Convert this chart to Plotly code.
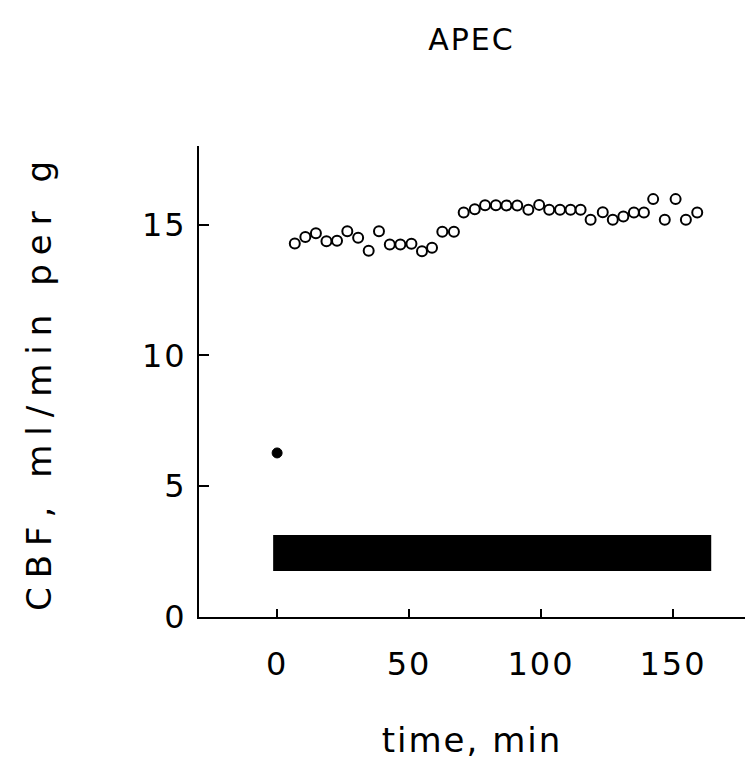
import plotly.graph_objects as go

# Data
time_open = [6.7, 10.7, 14.7, 18.7, 22.7, 26.6, 30.7, 34.7, 38.6, 42.7,
             46.7, 50.9, 54.9, 58.7, 62.6, 67.0, 70.7, 74.9, 78.8, 82.9,
             86.9, 91.0, 95.2, 99.3, 103.1, 107.2, 111.2, 115.0, 118.8, 123.4,
             127.2, 131.2, 135.2, 139.0, 142.5, 146.9, 151.0, 154.9, 159.2]
cbf_open = [14.27, 14.52, 14.67, 14.36, 14.38, 14.74, 14.49, 14.00, 14.74, 14.24,
            14.24, 14.26, 13.98, 14.11, 14.72, 14.72, 15.46, 15.58, 15.74, 15.74,
            15.73, 15.73, 15.56, 15.75, 15.56, 15.56, 15.56, 15.56, 15.18, 15.47,
            15.18, 15.31, 15.46, 15.46, 15.97, 15.18, 15.97, 15.18, 15.46]
time_base = [0]
cbf_base = [6.27]
bar_start, bar_end = -1.5, 164.5
bar_low, bar_high = 1.76, 3.13

x_ticks = [0, 50, 100, 150]
y_ticks = [0, 5, 10, 15]

FONT = "DejaVu Sans"


def spaced(text, px):
    return f'<span style="letter-spacing:{px}px">{text}</span>'


fig = go.Figure()
fig.add_shape(type="rect", xref="x", yref="y",
              x0=bar_start, x1=bar_end, y0=bar_low, y1=bar_high,
              fillcolor="black", line=dict(width=0), layer="below")
fig.add_trace(go.Scatter(x=time_base, y=cbf_base, mode="markers",
                         marker=dict(size=10, color="black",
                                     line=dict(color="black", width=1)),
                         showlegend=False))
fig.add_trace(go.Scatter(x=time_open, y=cbf_open, mode="markers",
                         marker=dict(size=10, color="white", symbol="circle",
                                     line=dict(color="black", width=2)),
                         showlegend=False))

fig.update_layout(
    width=746, height=783, autosize=False,
    paper_bgcolor="white", plot_bgcolor="white",
    margin=dict(l=199, r=1, t=146, b=166),
    font=dict(family=FONT, color="black", size=30),
    title=dict(text=spaced("APEC", 2), x=0.632, xanchor="center", y=0.949, yanchor="middle",
               font=dict(family=FONT, size=30, color="black")),
)
fig.update_xaxes(
    range=[-29.6, 177.3], tickvals=x_ticks, ticktext=[spaced(str(v), 2) for v in x_ticks],
    ticks="inside", ticklen=8, tickwidth=2, tickcolor="black",
    showline=True, linecolor="black", linewidth=2, mirror=False,
    showgrid=False, zeroline=False, ticklabelstandoff=18,
    tickfont=dict(family=FONT, size=32, color="black"),
    title=dict(text=spaced("time, min", 2), standoff=46,
               font=dict(family=FONT, size=34, color="black")),
)
fig.update_yaxes(
    range=[0, 18.0], tickvals=y_ticks, ticktext=[spaced(str(v), 2) for v in y_ticks],
    ticks="inside", ticklen=10, tickwidth=2, tickcolor="black",
    showline=True, linecolor="black", linewidth=2, mirror=False,
    showgrid=False, zeroline=False, ticklabelstandoff=4,
    tickfont=dict(family=FONT, size=32, color="black"),
    title=dict(text=spaced("CBF, ml/min per g", 9), standoff=80,
               font=dict(family=FONT, size=34, color="black")),
)

fig.write_html("out.html", config={"displayModeBar": False},
               post_script="document.body.style.margin='0';")
